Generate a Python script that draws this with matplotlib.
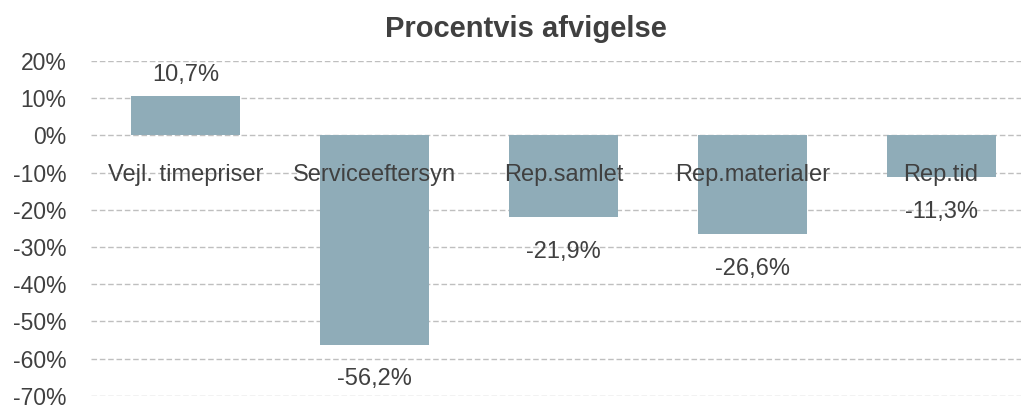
import matplotlib.pyplot as plt
from matplotlib.ticker import FuncFormatter

plt.rcParams['font.family'] = ['Liberation Sans', 'DejaVu Sans']

categories = ['Vejl. timepriser', 'Serviceeftersyn', 'Rep.samlet', 'Rep.materialer', 'Rep.tid']
values = [10.7, -56.2, -21.9, -26.6, -11.3]
yticks = [20, 10, 0, -10, -20, -30, -40, -50, -60, -70]

txt = '#404040'
bar_col = '#8FACB8'

fig = plt.figure(figsize=(10.21, 4.09), dpi=100)
ax = fig.add_axes([0.0896, 0.032, 0.9246, 0.819])

x = range(len(categories))
ax.bar(x, values, width=0.577, color=bar_col, zorder=2)

ax.set_ylim(-70, 20)
ax.set_xlim(-0.5, len(categories) - 0.5)
ax.set_yticks(yticks)
ax.yaxis.set_major_formatter(FuncFormatter(lambda v, p: f'{v:.0f}%'))
ax.tick_params(axis='y', length=0, labelsize=16.5, colors=txt, pad=18)
ax.tick_params(axis='x', length=0, labelbottom=False)
ax.grid(axis='y', color='#BFBFBF', linestyle=(0, (4, 2)), linewidth=1, zorder=0)
for s in ax.spines.values():
    s.set_visible(False)

# category names sit just under the zero line
for i, name in enumerate(categories):
    ax.text(i, -10.6, name, ha='center', va='center', fontsize=17, color=txt, zorder=3)

# value labels outside the bar ends
for i, v in enumerate(values):
    label = f'{v:.1f}%'.replace('.', ',')
    dy = 15 if v >= 0 else -25
    ax.annotate(label, (i, v), xytext=(0, dy), textcoords='offset points',
                ha='center', va='center', fontsize=17, color=txt)

fig.text(0.515, 0.93, 'Procentvis afvigelse', ha='center', va='center',
         fontsize=21, fontweight='bold', color=txt)

fig.savefig('out.png', dpi=100)
